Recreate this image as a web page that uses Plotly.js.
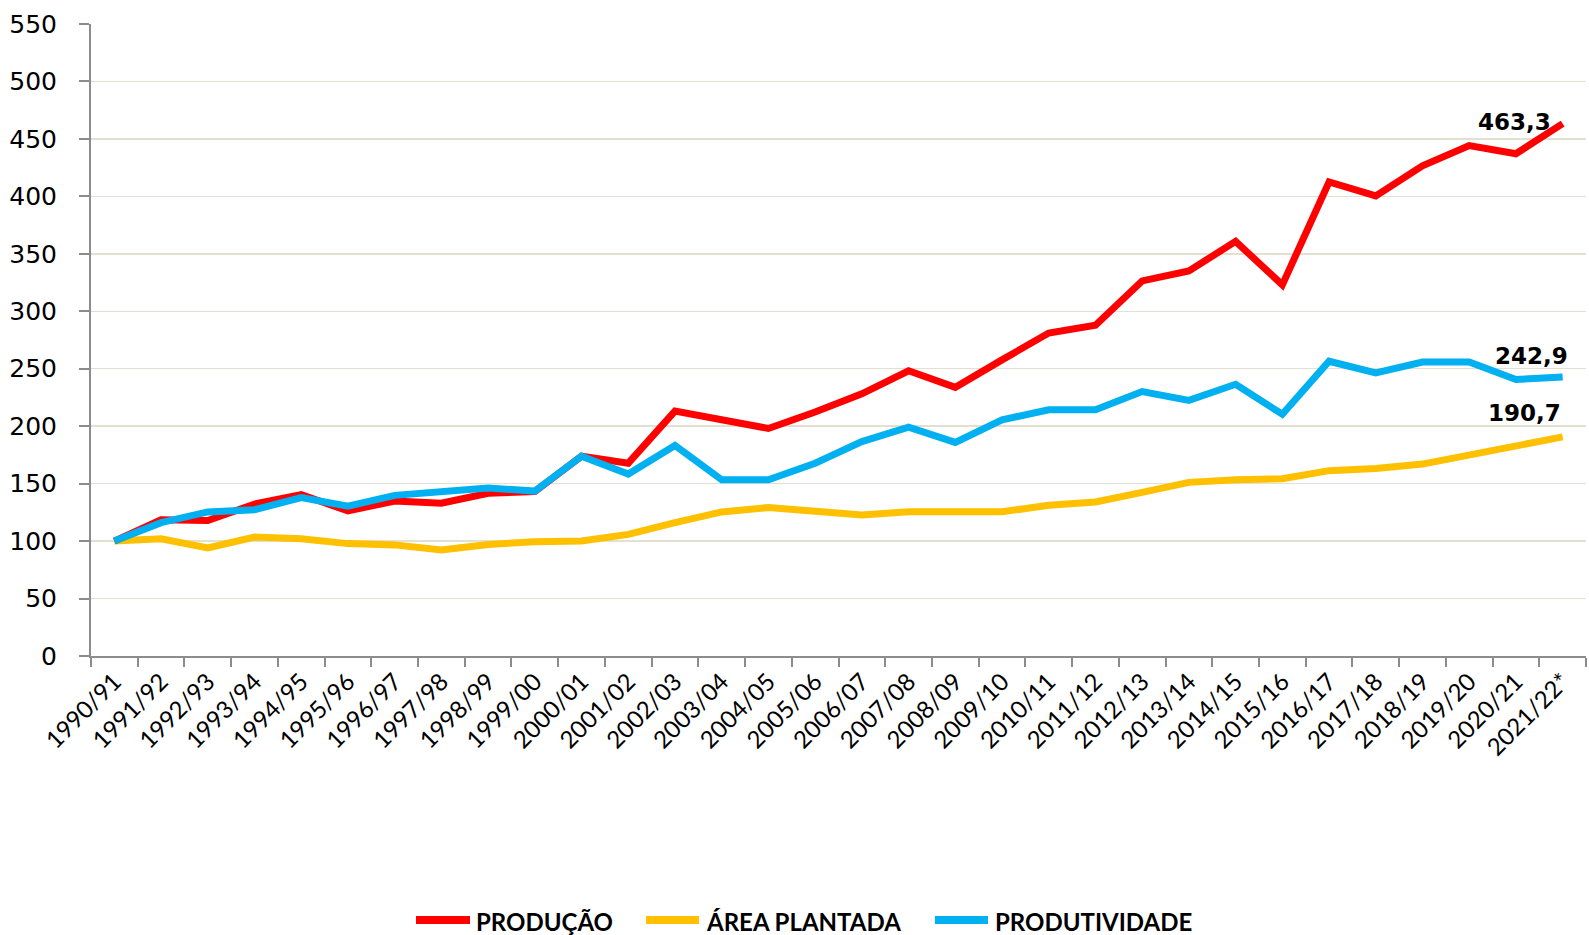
<!DOCTYPE html>
<html>
<head>
<meta charset="utf-8">
<script src="https://cdn.plot.ly/plotly-3.0.1.min.js"></script>
<style>html,body{margin:0;padding:0;background:#fff;}#chart{width:1589px;height:935px;}</style>
</head>
<body>
<div id="chart"></div>
<script>
const safras = ["1990/91","1991/92","1992/93","1993/94","1994/95","1995/96","1996/97","1997/98","1998/99","1999/00","2000/01","2001/02","2002/03","2003/04","2004/05","2005/06","2006/07","2007/08","2008/09","2009/10","2010/11","2011/12","2012/13","2013/14","2014/15","2015/16","2016/17","2017/18","2018/19","2019/20","2020/21","2021/22*"];
const producao = [100,118.6,117.9,132.2,140.5,126.2,134.9,133.0,141.6,143.2,173.8,167.8,213.1,205.5,198.0,212.3,228.2,248.2,233.8,257.7,281.1,287.9,326.4,335.1,360.8,323.0,412.5,400.4,426.5,444.2,437.1,463.3];
const areaPlantada = [100,102.0,94.1,103.5,102.0,97.8,96.7,92.2,97.1,99.4,100.1,105.8,116.0,125.4,129.2,126.6,122.8,125.5,125.8,125.5,131.1,134.1,142.4,151.1,153.4,154.2,161.3,163.2,167.0,174.6,182.1,190.7];
const produtividade = [100,116.0,125.4,127.3,137.9,130.3,139.8,143.2,146.2,143.5,173.8,158.3,183.2,153.4,153.4,167.8,186.6,199.1,185.9,205.5,214.2,214.2,230.1,222.5,236.5,210.4,256.5,246.3,255.8,255.8,240.6,242.9];
const seriesNames = ["PRODUÇÃO","ÁREA PLANTADA","PRODUTIVIDADE"];
const endLabels = ["463,3","190,7","242,9"];
const yTicks = [0,50,100,150,200,250,300,350,400,450,500,550];

const W = 1589, H = 935;
const M = {l:91, r:3, t:24, b:279};
const PW = W - M.l - M.r, PH = H - M.t - M.b;
const px2x = p => (p - M.l) / PW;
const px2y = p => (H - M.b - p) / PH;

const colors = ["#FF0000","#FFC000","#00B0F0"];
const allSeries = [producao, areaPlantada, produtividade];
const traces = allSeries.map((s,i)=>({
  x: safras, y: s, type:"scatter", mode:"lines", name: seriesNames[i],
  line:{color:colors[i], width:7, shape:"linear"}, cliponaxis:false, showlegend:false
}));
const ordered = [traces[1], traces[0], traces[2]];

const last = safras.length-1;
const labelShift = [{xs:-10, ys:2},{xs:0, ys:24},{xs:7, ys:21}];
const annotations = allSeries.map((s,i)=>({
  x: safras[last], y: s[last], xref:"x", yref:"y", text: endLabels[i],
  showarrow:false, xanchor:"right", yanchor:"middle",
  xshift: labelShift[i].xs, yshift: labelShift[i].ys,
  font:{family:"DejaVu Sans", size:23, color:"#000", weight:"bold"}
}));

// custom legend (pixel positions)
const legY = 920;
const legItems = [{x0:416, x1:470, tx:474},{x0:646, x1:699, tx:704},{x0:935, x1:988, tx:993}];
const shapes = legItems.map((it,i)=>({
  type:"line", xref:"paper", yref:"paper",
  x0:px2x(it.x0), x1:px2x(it.x1), y0:px2y(legY), y1:px2y(legY),
  line:{color:colors[i], width:8}
}));
legItems.forEach((it,i)=>annotations.push({
  xref:"paper", yref:"paper", x:px2x(it.tx), y:px2y(legY+1), text:seriesNames[i],
  showarrow:false, xanchor:"left", yanchor:"middle",
  font:{family:"Lato", size:24, color:"#000", weight:"bold"}
}));

const layout = {
  width:W, height:H,
  margin:M,
  paper_bgcolor:"#fff", plot_bgcolor:"#fff",
  showlegend:false,
  xaxis:{type:"category", tickson:"boundaries", ticks:"outside", ticklen:9, tickcolor:"#8c8c8c", tickwidth:2,
    showline:true, linecolor:"#8c8c8c", linewidth:2, showgrid:false, tickangle:-45,
    range:[-0.5, safras.length-0.5],
    tickfont:{family:"Lato", size:24, color:"#000"}, automargin:false},
  yaxis:{range:[0,550], tickvals:yTicks, ticks:"outside", ticklen:10, tickcolor:"#8c8c8c", tickwidth:2,
    showline:true, linecolor:"#8c8c8c", linewidth:2, showgrid:true, gridcolor:"#E3E0D2", gridwidth:1.5,
    zeroline:false, ticklabelstandoff:17,
    tickfont:{family:"DejaVu Sans", size:25, color:"#000"}, automargin:false},
  annotations: annotations,
  shapes: shapes
};
Plotly.newPlot("chart", ordered, layout, {displayModeBar:false, staticPlot:true});
</script>
</body>
</html>
